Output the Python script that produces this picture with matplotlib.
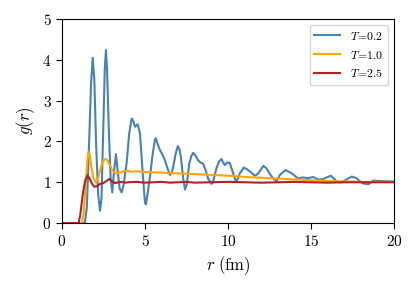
import matplotlib
matplotlib.use('Agg')
import matplotlib.pyplot as plt
from matplotlib.ticker import FormatStrFormatter

plt.rcParams['mathtext.fontset'] = 'cm'
plt.rcParams['font.family'] = 'serif'
plt.rcParams['font.serif'] = ['DejaVu Serif']

# g(r) for T=0.2
r_02 = [0, 1.2, 1.38, 1.5, 1.62, 1.75, 1.85, 1.95, 2.05, 2.18, 2.29, 2.38, 2.48, 2.58,
        2.65, 2.72, 2.82, 2.93, 3.03, 3.12, 3.25, 3.35, 3.47, 3.59, 3.72, 3.9, 4.05,
        4.2, 4.3, 4.4, 4.56, 4.7, 4.85, 5.0, 5.06, 5.15, 5.3, 5.45, 5.6, 5.66, 5.75,
        5.9, 6.05, 6.2, 6.35, 6.5, 6.6, 6.7, 6.85, 6.98, 7.08, 7.17, 7.3, 7.41, 7.52,
        7.67, 7.8, 7.9, 8.05, 8.2, 8.35, 8.5, 8.65, 8.8, 9.0, 9.1, 9.3, 9.45, 9.6,
        9.8, 9.95, 10.1, 10.25, 10.45, 10.55, 10.72, 10.95, 11.1, 11.33, 11.63, 11.83,
        12.13, 12.3, 12.5, 12.73, 12.93, 13.13, 13.47, 13.83, 14.05, 14.23, 14.53,
        14.8, 15.14, 15.4, 15.7, 15.95, 16.2, 16.4, 16.55, 16.85, 17.15, 17.45, 17.75,
        17.95, 18.15, 18.45, 18.75, 19.25, 19.85, 20]
g_02 = [0, 0, 0, 0.4, 1.8, 3.4, 4.05, 3.5, 2.0, 0.7, 0.3, 0.6, 2.2, 3.8,
        4.24, 3.7, 2.3, 1.1, 0.75, 1.2, 1.69, 1.3, 0.85, 0.75, 0.95, 1.5, 2.2,
        2.56, 2.5, 2.36, 2.42, 2.2, 1.3, 0.5, 0.46, 0.7, 1.13, 1.65, 2.05, 2.08, 1.95,
        1.79, 1.68, 1.54, 1.35, 1.18, 1.22, 1.38, 1.7, 1.89, 1.8, 1.6, 1.1, 0.82, 0.95,
        1.46, 1.65, 1.72, 1.65, 1.54, 1.48, 1.46, 1.3, 1.09, 0.96, 1.0, 1.34, 1.5, 1.57,
        1.42, 1.48, 1.48, 1.3, 1.05, 1.05, 1.22, 1.36, 1.33, 1.26, 1.16, 1.22,
        1.40, 1.35, 1.22, 1.09, 1.03, 1.18, 1.30, 1.22, 1.15, 1.09, 1.12,
        1.1, 1.13, 1.07, 1.07, 1.12, 1.16, 1.08, 1.01, 1.0, 1.07, 1.14, 1.1,
        1.02, 0.97, 0.95, 1.04, 1.03, 1.02, 1.02]

# g(r) for T=1.0
r_10 = [0, 1.2, 1.3, 1.42, 1.52, 1.6, 1.68, 1.78, 1.9, 2.05, 2.15, 2.3, 2.45, 2.6,
        2.72, 2.85, 3.0, 3.15, 3.3, 3.5, 3.7, 3.9, 4.2, 4.5, 4.8, 5.2, 5.6, 6.0, 6.5,
        7.0, 7.5, 8.0, 8.5, 9.0, 9.5, 10, 10.5, 11, 11.5, 12, 12.5, 13, 13.5, 14,
        14.5, 15, 15.5, 16, 17, 18, 19, 20]
g_10 = [0, 0, 0.2, 0.9, 1.5, 1.74, 1.65, 1.35, 1.1, 0.99, 1.05, 1.3, 1.5, 1.57,
        1.55, 1.45, 1.32, 1.24, 1.22, 1.24, 1.27, 1.28, 1.26, 1.27, 1.26, 1.25, 1.24,
        1.24, 1.22, 1.22, 1.21, 1.2, 1.19, 1.18, 1.17, 1.16, 1.15, 1.13, 1.12, 1.11,
        1.1, 1.09, 1.08, 1.07, 1.06, 1.05, 1.04, 1.03, 1.02, 1.01, 1.01, 1.01]

# g(r) for T=2.5
r_25 = [0, 1.0, 1.1, 1.25, 1.4, 1.55, 1.65, 1.8, 1.95, 2.1, 2.3, 2.5, 2.7, 2.85,
        3.0, 3.2, 3.4, 3.6, 3.8, 4.0, 4.5, 5.0, 5.5, 6.0, 6.5, 7.0, 7.5, 8.0, 9.0,
        10, 11, 12, 13, 14, 15, 16, 17, 18, 19, 20]
g_25 = [0, 0, 0.2, 0.7, 1.05, 1.17, 1.1, 0.97, 0.89, 0.9, 0.96, 0.98, 1.04, 1.08,
        1.03, 0.98, 1.0, 1.01, 0.99, 1.0, 1.01, 0.99, 1.0, 1.01, 0.99, 1.0, 1.01,
        0.99, 1.0, 1.01, 1.0, 0.99, 1.0, 1.01, 1.0, 0.99, 1.0, 1.0, 1.0, 1.0]

labels = [r'$T\!=\!0.2$', r'$T\!=\!1.0$', r'$T\!=\!2.5$']

fig = plt.figure(figsize=(4.16, 2.92), dpi=100)
ax = fig.add_axes([0.149, 0.236, 0.798, 0.699])
ax.plot(r_02, g_02, color='steelblue', lw=1.5, label=labels[0])
ax.plot(r_10, g_10, color='orange', lw=1.5, label=labels[1])
ax.plot(r_25, g_25, color='firebrick', lw=1.5, label=labels[2])

ax.set_xlim(0, 20)
ax.set_ylim(0, 5)
ax.set_xticks([0, 5, 10, 15, 20])
ax.set_yticks([0, 1, 2, 3, 4, 5])
ax.xaxis.set_major_formatter(FormatStrFormatter('$%d$'))
ax.yaxis.set_major_formatter(FormatStrFormatter('$%d$'))
ax.tick_params(direction='out', length=4, labelsize=11)
ax.set_xlabel(r'$r\ (\mathrm{fm})$', fontsize=12)
ax.set_ylabel(r'$g(r)$', fontsize=12)
ax.legend(loc='upper right', fontsize=8.5, handlelength=2.2)

fig.savefig('out.png', dpi=100)
